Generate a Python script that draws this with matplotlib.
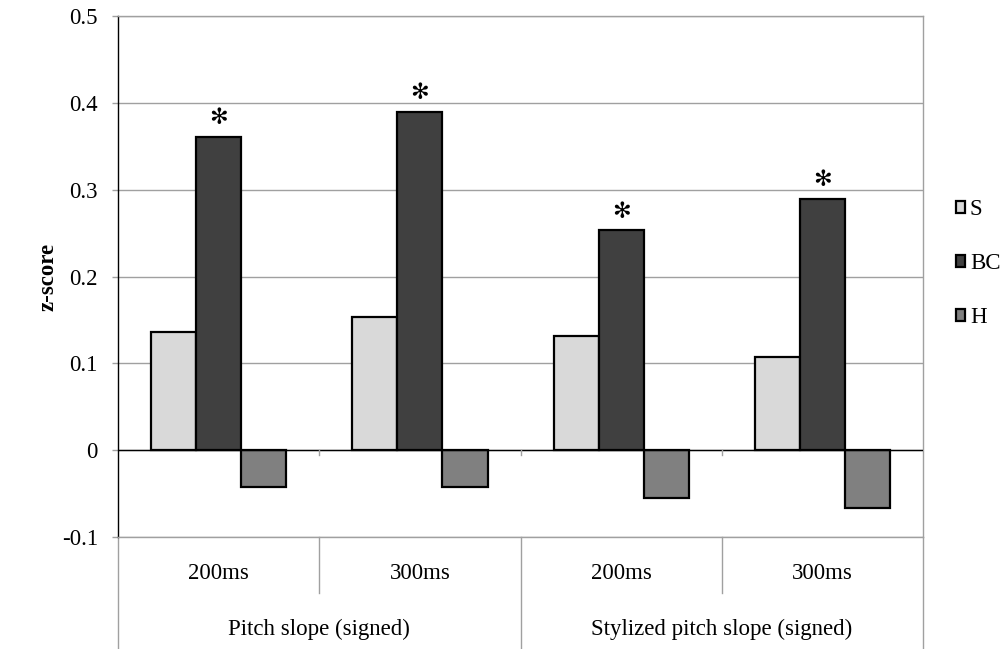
import numpy as np
import matplotlib
matplotlib.use('Agg')
from matplotlib import pyplot as plt
from matplotlib.patches import Patch

plt.rcParams['font.family'] = ['Liberation Serif', 'DejaVu Serif']

windows = ['200ms', '300ms', '200ms', '300ms']
features = ['Pitch slope (signed)', 'Stylized pitch slope (signed)']
series = ['S', 'BC', 'H']
s_vals = [0.136, 0.153, 0.131, 0.107]
bc_vals = [0.361, 0.390, 0.253, 0.289]
h_vals = [-0.042, -0.042, -0.055, -0.067]
significant = [True, True, True, True]   # BC marked with a star

colors = ['#d9d9d9', '#404040', '#808080']
grid_c = '#a0a0a0'
fs = 16.5

fig = plt.figure(figsize=(10.08, 6.49), dpi=100)
ax = fig.add_axes([0.1171, 0.1726, 0.7986, 0.8027])

x = np.arange(len(windows))
w = 0.224
for i, (vals, c) in enumerate(zip([s_vals, bc_vals, h_vals], colors)):
    ax.bar(x + (i - 1) * w, vals, w, color=c, edgecolor='black',
           linewidth=1.6, zorder=3, label=series[i])

# stars over the BC bars
for xi, v, sig in zip(x, bc_vals, significant):
    if sig:
        ax.annotate('\u273b', (xi, v), xytext=(0, 13.5),
                    textcoords='offset points', ha='center', va='center',
                    fontsize=16, family='DejaVu Sans')

ax.set_xlim(-0.5, 3.5)
ax.set_ylim(-0.1, 0.5)
ax.set_yticks(np.arange(-0.1, 0.51, 0.1))
ax.set_yticklabels(['-0.1', '0', '0.1', '0.2', '0.3', '0.4', '0.5'])
ax.yaxis.grid(True, color=grid_c, linewidth=1.0, zorder=0)
ax.axhline(0, color='black', linewidth=1.0, zorder=4)
ax.tick_params(axis='y', length=4.5, width=1.0, color=grid_c,
               labelsize=fs, pad=10)
ax.set_xticks([])
ax.set_ylabel('z-score', fontsize=fs, fontweight='bold', labelpad=2)

for side in ['top', 'right', 'bottom']:
    ax.spines[side].set_color(grid_c)
    ax.spines[side].set_linewidth(1.0)
ax.spines['left'].set_color('black')
ax.spines['left'].set_linewidth(1.0)

# small category ticks on the zero line
for b in [0.5, 1.5, 2.5]:
    ax.plot([b, b], [0, -0.006], color=grid_c, linewidth=1.0, zorder=4)

# two-level category axis below the plot
trans = ax.get_xaxis_transform()
for b in [-0.5, 1.5, 3.5]:
    ax.plot([b, b], [0, -0.215], color=grid_c, linewidth=1.0,
            transform=trans, clip_on=False)
for b in [0.5, 2.5]:
    ax.plot([b, b], [0, -0.1075], color=grid_c, linewidth=1.0,
            transform=trans, clip_on=False)
for xi, lab in zip(x, windows):
    ax.text(xi, -0.07, lab, transform=trans, ha='center', va='center',
            fontsize=fs)
for k, lab in enumerate(features):
    ax.text(2 * k + 0.5, -0.178, lab, transform=trans, ha='center',
            va='center', fontsize=fs)

handles = [Patch(facecolor=c, edgecolor='black', linewidth=1.6) for c in colors]
fig.legend(handles, series, loc='center left', bbox_to_anchor=(0.939, 0.594),
           frameon=False, fontsize=fs, handlelength=0.42, handleheight=0.42,
           handletextpad=0.2, labelspacing=1.45, borderaxespad=0)

fig.savefig('out.png', dpi=100)
